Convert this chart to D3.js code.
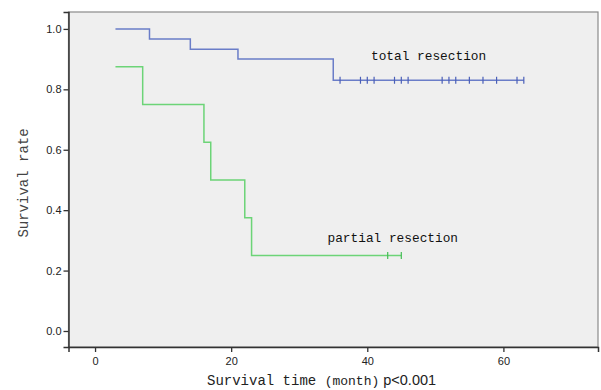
<!DOCTYPE html>
<html>
<head>
<meta charset="utf-8">
<script src="https://cdn.jsdelivr.net/npm/d3@7"></script>
<style>
  body { margin: 0; background: #fff; }
  svg { display: block; }
</style>
</head>
<body>
<div id="chart"></div>
<script>
// Kaplan-Meier steps
var totalTimes = [3, 8, 14, 21, 35, 63];
var totalSurv = [1.0, 0.967, 0.933, 0.9, 0.83, 0.83];
var totalCensor = [36, 39, 40, 41, 44, 45, 46, 51, 52, 53, 55, 57, 59, 62, 63];

var partialTimes = [3, 7, 16, 17, 22, 23, 45];
var partialSurv = [0.875, 0.75, 0.625, 0.5, 0.375, 0.25, 0.25];
var partialCensor = [43, 45];

var xTicks = [0, 20, 40, 60];
var yTicks = [0, 0.2, 0.4, 0.6, 0.8, 1.0];

var W = 601, H = 390;
var plot = {left: 68.5, right: 598, top: 12, bottom: 347};

var svg = d3.select("#chart")
    .append("svg")
    .attr("width", W)
    .attr("height", H);

var x = d3.scaleLinear()
    .domain([-3.9, 73.9])
    .range([plot.left, plot.right]);
var y = d3.scaleLinear()
    .domain([-0.053, 1.056])
    .range([plot.bottom, plot.top]);

// plot background
svg.append("rect")
    .attr("x", plot.left)
    .attr("y", plot.top)
    .attr("width", plot.right - plot.left)
    .attr("height", plot.bottom - plot.top)
    .style("fill", "#efefef")
    .style("stroke", "#8a8a8a")
    .style("stroke-width", 1.2);

// axes
var yAxis = svg.append("g")
    .attr("transform", "translate(" + plot.left + ",0)")
    .call(d3.axisLeft(y).tickValues(yTicks).tickFormat(d3.format(".1f"))
        .tickSizeOuter(0).tickSize(5).tickPadding(2));
var xAxis = svg.append("g")
    .attr("transform", "translate(0," + plot.bottom + ")")
    .call(d3.axisBottom(x).tickValues(xTicks).tickSizeOuter(0).tickSize(5).tickPadding(5));

[xAxis, yAxis].forEach(function (a) {
    a.select(".domain").style("stroke", "#333").style("stroke-width", 1.5);
    a.selectAll(".tick line").style("stroke", "#333").style("stroke-width", 1.3);
    a.selectAll(".tick text")
        .style("font-family", "Liberation Sans, Arial, sans-serif")
        .style("font-size", "11px")
        .style("fill", "#222");
});

function survAt(times, surv, t) {
    var v = surv[0];
    for (var i = 0; i < times.length; i++) {
        if (times[i] <= t) v = surv[i];
    }
    return v;
}

var line = d3.line()
    .x(function (d) { return x(d[0]); })
    .y(function (d) { return y(d[1]); })
    .curve(d3.curveStepAfter);

var series = [
    {times: totalTimes, surv: totalSurv, censor: totalCensor, color: "#6a7dc8", tick: "#4a5fb8"},
    {times: partialTimes, surv: partialSurv, censor: partialCensor, color: "#6cd477", tick: "#45bd55"}
];

series.forEach(function (s) {
    svg.append("path")
        .datum(d3.zip(s.times, s.surv))
        .attr("d", line)
        .style("fill", "none")
        .style("stroke", s.color)
        .style("stroke-width", 1.5);

    svg.selectAll(null)
        .data(s.censor)
        .enter()
        .append("line")
        .attr("x1", function (d) { return x(d); })
        .attr("x2", function (d) { return x(d); })
        .attr("y1", function (d) { return y(survAt(s.times, s.surv, d)) - 3.5; })
        .attr("y2", function (d) { return y(survAt(s.times, s.surv, d)) + 3.5; })
        .style("stroke", s.tick)
        .style("stroke-width", 1.2);
});

// curve labels
var mono = "Liberation Mono, Courier New, monospace";
svg.append("text")
    .attr("x", 371)
    .attr("y", 60)
    .style("font-family", mono)
    .style("font-size", "12.8px")
    .style("fill", "#111")
    .text("total resection");
svg.append("text")
    .attr("x", 327.5)
    .attr("y", 242)
    .style("font-family", mono)
    .style("font-size", "12.8px")
    .style("fill", "#111")
    .text("partial resection");

// axis titles
svg.append("text")
    .attr("transform", "translate(28,183) rotate(-90)")
    .attr("text-anchor", "middle")
    .style("font-family", mono)
    .style("font-size", "14px")
    .style("fill", "#444")
    .text("Survival rate");

var xt = svg.append("text")
    .attr("x", 207)
    .attr("y", 385)
    .style("fill", "#222");
xt.append("tspan")
    .style("font-family", mono)
    .style("font-size", "14px")
    .text("Survival time ");
xt.append("tspan")
    .style("font-family", mono)
    .style("font-size", "13px")
    .text("(month)");
xt.append("tspan")
    .style("font-family", "Liberation Sans, Arial, sans-serif")
    .style("font-size", "14.5px")
    .text(" p<0.001");
</script>
</body>
</html>
